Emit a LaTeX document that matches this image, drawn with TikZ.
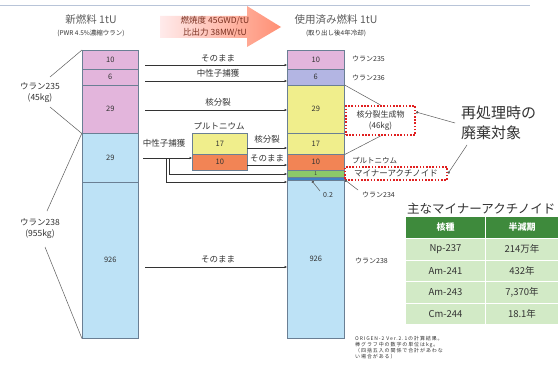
\documentclass[tikz,border=0pt]{standalone}
\usepackage{fontspec}
\setmainfont{Noto Sans CJK JP}
\newfontfamily\fnfont{Noto Sans CJK JP}[LetterSpace=18]
\usetikzlibrary{arrows.meta,calc}
\definecolor{pk}{HTML}{E3B5DC}
\definecolor{pu}{HTML}{B3B5E3}
\definecolor{ye}{HTML}{F0EE8C}
\definecolor{og}{HTML}{F28455}
\definecolor{grn}{HTML}{8CC96A}
\definecolor{bl}{HTML}{3F82C4}
\definecolor{lb}{HTML}{BDE2F6}
\definecolor{edgec}{HTML}{6A7F94}
\definecolor{tg}{HTML}{3E8A3C}
\definecolor{tl}{HTML}{D2EAC6}
\definecolor{txt}{HTML}{333333}
\definecolor{brn}{HTML}{7A3020}
\definecolor{topl}{HTML}{B8C4D8}
\definecolor{redd}{HTML}{E02020}
\tikzset{
  seg/.style={draw=edgec, line width=0.6pt, anchor=north west, inner sep=0pt, text=txt, font=\fontsize{7.5}{8}\selectfont},
  lbl/.style={text=txt, inner sep=0pt, font=\fontsize{7}{8}\selectfont},
  mlbl/.style={text=txt, inner sep=0pt, font=\fontsize{8.5}{10}\selectfont},
  ttl/.style={text=txt!80, inner sep=0pt, font=\fontsize{10.5}{11}\selectfont},
  subt/.style={text=txt, inner sep=0pt, font=\fontsize{6.5}{7}\selectfont},
  arr/.style={draw=txt, line width=0.6pt, -{Latex[length=2.5pt,width=2.5pt]}},
  ln/.style={draw=txt!80, line width=0.5pt},
  dotbox/.style={draw=redd, line width=2pt, dash pattern=on 1.6pt off 1.6pt, inner sep=0pt},
  cell/.style={fill=tl, draw=white, line width=1pt, inner sep=0pt, text=txt, font=\fontsize{9.5}{10}\selectfont},
  hcell/.style={fill=tg, draw=white, line width=1pt, inner sep=0pt, text=white, font=\bfseries\fontsize{9}{10}\selectfont},
  dotend/.style={-{Circle[length=2.5pt]}}
}
\begin{document}
\begin{tikzpicture}[x=1pt,y=-1pt]
\useasboundingbox (0,0) rectangle (559,369);
\fill[white] (0,0) rectangle (559,369);
% top line
\draw[topl, line width=0.8pt] (0,5) -- (530,5);
% top big arrow
\shade[left color=red!8, right color=red!45!orange!40!pink] (160,16) -- (247,16) -- (247,6) -- (281,27) -- (247,47) -- (247,38) -- (160,38) -- cycle;
\node[text=brn, inner sep=0pt, font=\fontsize{8.5}{9}\selectfont] (bu1) at (215,21) {燃焼度 45GWD/tU};
\node[text=brn, inner sep=0pt, font=\fontsize{8.5}{9}\selectfont] (bu2) at (215,33) {比出力 38MW/tU};
% titles
\node[ttl] (lt1) at (91,20) {新燃料 1tU};
\node[subt] (lt2) at (91,33) {(PWR 4.5\%濃縮ウラン)};
\node[ttl] (rt1) at (336,20) {使用済み燃料 1tU};
\node[subt] (rt2) at (336,33) {(取り出し後4年冷却)};
% left column
\node[seg, fill=pk, minimum width=56pt, minimum height=19pt] (L10) at (82,50) {10};
\node[seg, fill=pk, minimum width=56pt, minimum height=16pt] (L6) at (82,69) {6};
\node[seg, fill=pk, minimum width=56pt, minimum height=48pt] (L29a) at (82,85) {29};
\node[seg, fill=lb, minimum width=56pt, minimum height=49pt] (L29b) at (82,133) {29};
\node[seg, fill=lb, minimum width=56pt, minimum height=156pt] (L926) at (82,182) {926};
% right column
\node[seg, fill=pk, minimum width=57pt, minimum height=19pt] (R10) at (287,50) {10};
\node[seg, fill=pu, minimum width=57pt, minimum height=16pt] (R6) at (287,69) {6};
\node[seg, fill=ye, minimum width=57pt, minimum height=48pt] (RFP) at (287,85) {29};
\node[seg, fill=ye, minimum width=57pt, minimum height=21pt] (R17) at (287,133) {17};
\node[seg, fill=og, minimum width=57pt, minimum height=16pt] (RPu) at (287,154) {10};
\node[seg, fill=grn, minimum width=57pt, minimum height=7pt, font=\fontsize{5}{5}\selectfont] (RMA) at (287,170) {1};
\node[seg, fill=bl, minimum width=57pt, minimum height=3pt] (R02) at (287,177) {};
\node[seg, fill=lb, minimum width=57pt, minimum height=158pt] (R926) at (287,180) {926};
% left labels
\node[mlbl, align=center, font=\fontsize{8.5}{11}\selectfont] (u235) at (40,93) {ウラン235\\(45kg)};
\node[mlbl, align=center, font=\fontsize{8.5}{11}\selectfont] (u238) at (40,229) {ウラン238\\(955kg)};
\coordinate (u235a) at (50,77);
\coordinate (u235b) at (50,107);
\coordinate (u238a) at (47,211);
\coordinate (u238b) at (45,247);
\draw[ln] (L10.north west) -- (u235a);
\draw[ln] (L29a.south west) -- (u235b);
\draw[ln] (L29b.north west) -- (u238a);
\draw[ln] (L926.south west) -- (u238b);
% main arrows
\coordinate (s1) at (145,65);
\coordinate (s2) at (145,81);
\coordinate (s3) at (145,110);
\coordinate (s4) at (145,267);
\draw[arr] (s1) -- (s1 -| R10.west);
\draw[arr] (s2) -- (s2 -| R6.west);
\draw[arr] (s3) -- (s3 -| RFP.west);
\draw[arr] (s4) -- (s4 -| R926.west);
\node[mlbl] (m1) at (218,58) {そのまま};
\node[mlbl] (m2) at (218,73.5) {中性子捕獲};
\node[mlbl] (m3) at (218,102.5) {核分裂};
\node[mlbl] (m4) at (218,259) {そのまま};
% plutonium box
\node[seg, fill=ye, minimum width=55pt, minimum height=21pt] (P17) at (192,133) {17};
\node[seg, fill=og, minimum width=55pt, minimum height=16pt] (P10) at (192,154) {10};
\node[mlbl] (plab) at (219,126) {プルトニウム};
\node[mlbl] (ncap) at (164,143) {中性子捕獲};
\coordinate (ns) at (143,158);
\coordinate (b1) at (166,158);
\coordinate (b2) at (169,158);
\draw[arr] (ns) -- (ns -| P10.west);
\draw[arr] (b1) |- (RMA.west |- 0,182);
\draw[arr] (b2) |- (RMA.west |- 0,174);
\coordinate (pf) at (247,148);
\coordinate (pk) at (247,165);
\draw[arr] (pf) -- (pf -| R17.west);
\draw[arr] (pk) -- (pk -| RPu.west);
\node[mlbl] (pfl) at (267,139) {核分裂};
\node[mlbl] (pkl) at (267,158.5) {そのまま};
% right labels
\node[lbl, anchor=west] (r235) at (352,59) {ウラン235};
\node[lbl, anchor=west] (r236) at (352,78) {ウラン236};
\node[dotbox, minimum width=69pt, minimum height=29pt] (FP) at (380.5,120.5) {};
\node[mlbl, align=center, font=\fontsize{8}{11}\selectfont] (fpt) at (380.5,120.5) {核分裂生成物\\(46kg)};
\draw[ln] (RFP.north east) -- (FP.north);
\draw[ln] (R17.south east) -- (FP.south);
\node[lbl, anchor=west, font=\fontsize{7.5}{8}\selectfont] (rpu) at (352,161) {プルトニウム};
\node[dotbox, minimum width=102pt, minimum height=13pt] (MA) at (396,173.5) {};
\node[mlbl] (mat) at (396,173.5) {マイナーアクチノイド};
\node[text=txt, inner sep=0pt, anchor=west, align=left, font=\fontsize{15}{20}\selectfont] (rep) at (461,123) {再処理時の\\廃棄対象};
\coordinate (ra) at (455,123);
\coordinate (rb) at (467,145);
\draw[ln, dotend] (ra) -- (FP.east |- 0,112);
\draw[ln, dotend] (rb) -- (MA.east);
\node[lbl, anchor=west] (r234) at (362,195) {ウラン234};
\coordinate (d234) at (345,180);
\coordinate (e234) at (358,190);
\draw[ln, {Circle[length=2.5pt]}-] (d234) -- (e234);
\node[lbl, anchor=west] (r02) at (323,195) {0.2};
\coordinate (d02) at (312,181);
\coordinate (e02) at (320,191);
\draw[ln, {Circle[length=2.5pt]}-] (d02) -- (e02);
\node[lbl, anchor=west] (r238) at (355,261) {ウラン238};
% table
\node[text=txt, inner sep=0pt, anchor=west, font=\fontsize{12.5}{13}\selectfont] (tt) at (407,209) {主なマイナーアクチノイド};
\node[hcell, anchor=north west, minimum width=80pt, minimum height=22pt] (h1) at (405,216) {核種};
\node[hcell, anchor=north west, minimum width=73pt, minimum height=22pt] (h2) at (485,216) {半減期};
\node[cell, anchor=north west, minimum width=80pt, minimum height=21.5pt] (c11) at (405,238) {Np-237};
\node[cell, anchor=north west, minimum width=73pt, minimum height=21.5pt] (c12) at (485,238) {214万年};
\node[cell, anchor=north west, minimum width=80pt, minimum height=21.5pt] (c21) at (405,259.5) {Am-241};
\node[cell, anchor=north west, minimum width=73pt, minimum height=21.5pt] (c22) at (485,259.5) {432年};
\node[cell, anchor=north west, minimum width=80pt, minimum height=21.5pt] (c31) at (405,281) {Am-243};
\node[cell, anchor=north west, minimum width=73pt, minimum height=21.5pt] (c32) at (485,281) {7,370年};
\node[cell, anchor=north west, minimum width=80pt, minimum height=21.5pt] (c41) at (405,302.5) {Cm-244};
\node[cell, anchor=north west, minimum width=73pt, minimum height=21.5pt] (c42) at (485,302.5) {18.1年};
% footnote
\node[text=txt, inner sep=0pt, anchor=north west, align=left, font=\fnfont\fontsize{5}{6}\selectfont] (fn) at (355,336) {ORIGEN-2 Ver.2.1の計算結果。\\棒グラフ中の数字の単位はkg。\\（四捨五入の関係で合計があわな\\い場合がある）};
\end{tikzpicture}
\end{document}
